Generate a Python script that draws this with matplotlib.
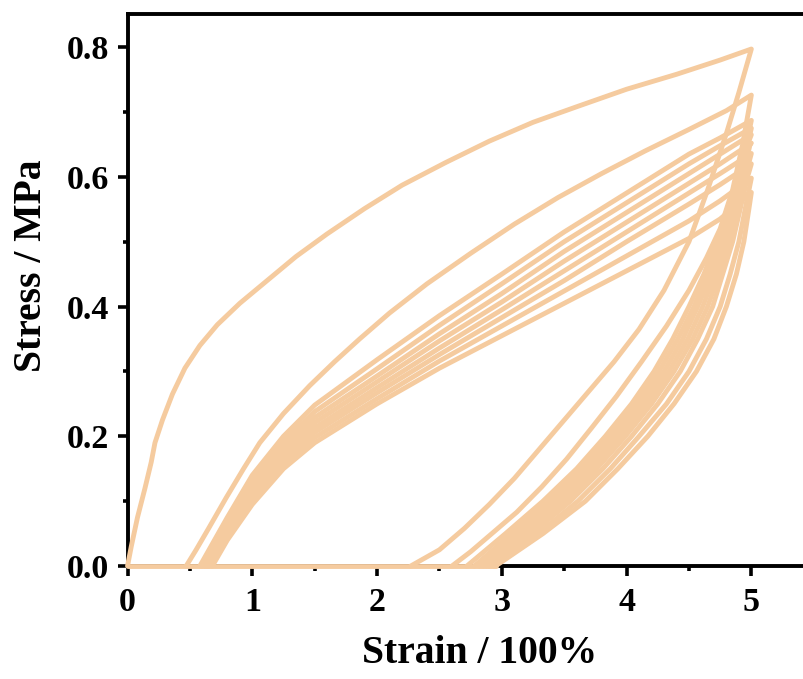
import numpy as np
import matplotlib
matplotlib.use("Agg")
import matplotlib.pyplot as plt
from matplotlib.ticker import MultipleLocator

# -----------------------------
# Data
# -----------------------------
# cycle 1: loading from 0 to strain 5, then unloading to zero stress
c1_load_x = [0, 0.03, 0.08, 0.14, 0.19, 0.22, 0.28, 0.36, 0.46, 0.58, 0.72, 0.9, 1.1,
             1.35, 1.6, 1.9, 2.2, 2.55, 2.9, 3.25, 3.6, 4.0, 4.4, 4.75, 5.0]
c1_load_y = [0, 0.03, 0.075, 0.12, 0.16, 0.19, 0.225, 0.265, 0.305, 0.34, 0.372, 0.405, 0.437,
             0.477, 0.512, 0.551, 0.587, 0.622, 0.655, 0.684, 0.708, 0.735, 0.758, 0.78, 0.797]
c1_un_x = [5.0, 4.9, 4.8, 4.65, 4.5, 4.3, 4.1, 3.9, 3.7, 3.5, 3.3, 3.1, 2.9, 2.7, 2.5, 2.27]
c1_un_y = [0.797, 0.73, 0.667, 0.58, 0.50, 0.425, 0.365, 0.315, 0.27, 0.225, 0.18, 0.135,
           0.095, 0.058, 0.025, 0.0]

# cycle 2
c2_load_x = [0.47, 0.55, 0.65, 0.79, 0.93, 1.06, 1.25, 1.46, 1.66, 1.86, 2.1, 2.4, 2.75,
             3.1, 3.45, 3.8, 4.15, 4.5, 4.8, 5.0]
c2_load_y = [0, 0.025, 0.058, 0.105, 0.15, 0.19, 0.235, 0.278, 0.315, 0.35, 0.39, 0.435, 0.482,
             0.527, 0.568, 0.605, 0.64, 0.673, 0.702, 0.726]
c2_un_x = [5.0, 4.93, 4.85, 4.75, 4.64, 4.5, 4.32, 4.12, 3.92, 3.72, 3.52, 3.32, 3.12, 2.92, 2.75, 2.6]
c2_un_y = [0.726, 0.65, 0.58, 0.52, 0.475, 0.425, 0.37, 0.315, 0.262, 0.213, 0.165, 0.122,
           0.083, 0.05, 0.022, 0.0]

# cycles 3-10: loading stresses on a shared strain grid
load_grid = [0.8, 1.0, 1.25, 1.5, 2.0, 2.5, 3.0, 3.5, 4.0, 4.5, 4.75, 5.0]
starts = [0.58, 0.60, 0.62, 0.63, 0.64, 0.65, 0.66, 0.68]
c3_load = [0.075, 0.14, 0.2, 0.248, 0.318, 0.386, 0.45, 0.515, 0.575, 0.635, 0.66, 0.687]
c4_load = [0.068, 0.133, 0.192, 0.238, 0.304, 0.371, 0.435, 0.50, 0.56, 0.62, 0.648, 0.675]
c5_load = [0.062, 0.126, 0.184, 0.229, 0.293, 0.358, 0.42, 0.485, 0.545, 0.605, 0.635, 0.665]
c6_load = [0.058, 0.12, 0.176, 0.221, 0.284, 0.347, 0.407, 0.47, 0.53, 0.59, 0.62, 0.652]
c7_load = [0.054, 0.114, 0.169, 0.213, 0.275, 0.336, 0.395, 0.455, 0.515, 0.575, 0.605, 0.636]
c8_load = [0.05, 0.109, 0.163, 0.206, 0.267, 0.326, 0.383, 0.44, 0.50, 0.558, 0.588, 0.62]
c9_load = [0.045, 0.102, 0.156, 0.198, 0.258, 0.316, 0.37, 0.424, 0.478, 0.532, 0.563, 0.598]
c10_load = [0.04, 0.095, 0.15, 0.19, 0.25, 0.305, 0.355, 0.405, 0.455, 0.505, 0.535, 0.576]

# cycles 3-10: unloading strains at shared stress levels (only levels below each peak)
un_levels = [0.65, 0.6, 0.55, 0.5, 0.45, 0.4, 0.35, 0.3, 0.25, 0.2, 0.15, 0.1, 0.05, 0.0]
c3_un = [4.96, 4.9, 4.82, 4.72, 4.62, 4.5, 4.37, 4.22, 4.04, 3.83, 3.6, 3.33, 3.03, 2.72]
c4_un = [4.97, 4.91, 4.84, 4.75, 4.65, 4.54, 4.41, 4.26, 4.08, 3.87, 3.64, 3.38, 3.08, 2.78]
c5_un = [4.97, 4.92, 4.86, 4.77, 4.68, 4.57, 4.45, 4.3, 4.12, 3.91, 3.68, 3.42, 3.12, 2.82]
c6_un = [4.99, 4.93, 4.87, 4.79, 4.71, 4.61, 4.49, 4.34, 4.16, 3.95, 3.72, 3.46, 3.16, 2.85]
c7_un = [4.95, 4.89, 4.82, 4.74, 4.65, 4.53, 4.38, 4.2, 3.99, 3.76, 3.5, 3.2, 2.88]
c8_un = [4.97, 4.91, 4.85, 4.77, 4.69, 4.57, 4.43, 4.25, 4.04, 3.81, 3.55, 3.24, 2.90]
c9_un = [4.95, 4.9, 4.83, 4.75, 4.64, 4.5, 4.32, 4.1, 3.87, 3.61, 3.29, 2.93]
c10_un = [4.98, 4.94, 4.88, 4.8, 4.7, 4.56, 4.38, 4.17, 3.93, 3.67, 3.33, 2.95]

# zero-stress return path
zero_x = [0, 2.95]
zero_y = [0, 0]

color = "#F5CB9F"

# -----------------------------
# Figure
# -----------------------------
plt.rcParams["font.family"] = "Liberation Serif"
plt.rcParams["font.weight"] = "bold"

fig = plt.figure(figsize=(8.04, 6.79), dpi=100)
ax = fig.add_axes([0.1586, 0.1664, 0.883, 0.813])

style = dict(color=color, lw=3.5, zorder=3, clip_on=False,
             solid_joinstyle="round", solid_capstyle="round")

ax.plot(zero_x, zero_y, **style)
ax.plot(c1_load_x + c1_un_x, c1_load_y + c1_un_y, **style)
ax.plot(c2_load_x + c2_un_x, c2_load_y + c2_un_y, **style)

bundle = [(c3_load, c3_un), (c4_load, c4_un), (c5_load, c5_un), (c6_load, c6_un),
          (c7_load, c7_un), (c8_load, c8_un), (c9_load, c9_un), (c10_load, c10_un)]
for s, (ly, ux) in zip(starts, bundle):
    uy = un_levels[-len(ux):]
    xs = [s] + load_grid + ux
    ys = [0] + ly + uy
    ax.plot(xs, ys, **style)

ax.set_xlim(0, 5.69)
ax.set_ylim(0, 0.851)
ax.xaxis.set_major_locator(MultipleLocator(1))
ax.xaxis.set_minor_locator(MultipleLocator(0.5))
ax.yaxis.set_major_locator(MultipleLocator(0.2))
ax.yaxis.set_minor_locator(MultipleLocator(0.1))
ax.yaxis.set_major_formatter(plt.FuncFormatter(lambda v, p: f"{v:.1f}"))

for sp in ax.spines.values():
    sp.set_linewidth(2.8)
ax.tick_params(which="major", direction="out", length=7, width=2.6,
               labelsize=24.5, pad=6)
ax.tick_params(which="minor", direction="out", length=3.5, width=2.6)
ax.tick_params(axis="x", which="major", pad=8)

ax.set_xlabel("Strain / 100%", fontsize=28.5, fontweight="bold", va="top")
ax.set_ylabel("Stress / MPa", fontsize=28.5, fontweight="bold")
ax.xaxis.set_label_coords(0.4965, -0.125)
ax.yaxis.set_label_coords(-0.1085, 0.5435)

fig.savefig("out.png", dpi=100)
